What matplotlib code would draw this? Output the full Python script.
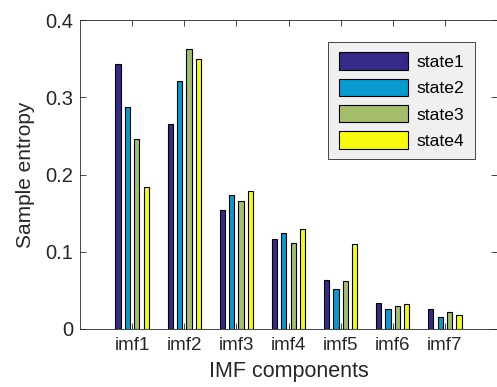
import matplotlib
matplotlib.use("Agg")
import matplotlib.pyplot as plt
import numpy as np

plt.rcParams['font.family'] = ['Liberation Sans', 'DejaVu Sans']

categories = ['imf1', 'imf2', 'imf3', 'imf4', 'imf5', 'imf6', 'imf7']
series_names = ['state1', 'state2', 'state3', 'state4']
state1 = [0.343, 0.265, 0.154, 0.1165, 0.0634, 0.0332, 0.0255]
state2 = [0.288, 0.3215, 0.1735, 0.124, 0.0522, 0.0255, 0.0155]
state3 = [0.2455, 0.363, 0.166, 0.111, 0.0626, 0.0293, 0.0216]
state4 = [0.184, 0.349, 0.178, 0.130, 0.1096, 0.032, 0.0177]
colors = ['#352A87', '#059BCE', '#A5BE6A', '#F9FB0E']

fig = plt.figure(figsize=(4.97, 3.87), dpi=100)
ax = fig.add_axes([80/497, 1-329/387, 417/497, 309/387])

x = np.arange(1, len(categories)+1)
offsets = [-0.27, -0.09, 0.09, 0.27]
width = 0.10
for vals, off, c, name in zip([state1, state2, state3, state4], offsets, colors, series_names):
    ax.bar(x + off, vals, width=width, color=c, edgecolor='black', linewidth=0.8, label=name)

ax.set_xlim(0, 8)
ax.set_ylim(0, 0.4)
ax.set_xticks(x)
ax.set_xticklabels(categories)
ax.set_yticks([0, 0.1, 0.2, 0.3, 0.4])
ax.set_yticklabels(['0', '0.1', '0.2', '0.3', '0.4'])
ax.tick_params(direction='in', top=True, right=True, length=4, width=0.6,
               colors='#262626')
ax.tick_params(axis='x', labelsize=13.5, pad=6)
ax.tick_params(axis='y', labelsize=14.5, pad=5)
for s in ax.spines.values():
    s.set_color('#262626')
    s.set_linewidth(0.6)
ax.set_xlabel('IMF components', fontsize=15.5, color='#262626', labelpad=5)
ax.set_ylabel('Sample entropy', fontsize=15, color='#262626', labelpad=7)

leg = ax.legend(loc='upper right', bbox_to_anchor=(0.947, 0.929), borderaxespad=0,
                fontsize=12.6, handlelength=3.95, handleheight=1.14, labelspacing=0.5,
                handletextpad=0.5, borderpad=0.6, fancybox=False, framealpha=1)
leg.get_frame().set_facecolor('#F0F0F0')
leg.get_frame().set_edgecolor('#262626')
leg.get_frame().set_linewidth(0.6)

fig.savefig('out.png', dpi=100)
